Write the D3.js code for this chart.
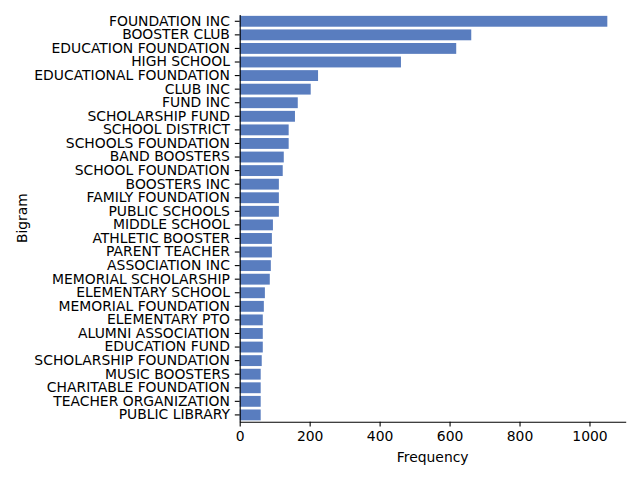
<!DOCTYPE html>
<html>
<head>
<meta charset="utf-8">
<script src="https://cdn.jsdelivr.net/npm/d3@7"></script>
<style>
  body { margin: 0; background: #fff; }
  svg { font-family: "DejaVu Sans", sans-serif; }
</style>
</head>
<body>
<svg id="chart" width="640" height="480"></svg>
<script>
// Bigram counts
const bigrams = [
    'FOUNDATION INC', 'BOOSTER CLUB', 'EDUCATION FOUNDATION', 'HIGH SCHOOL',
    'EDUCATIONAL FOUNDATION', 'CLUB INC', 'FUND INC', 'SCHOLARSHIP FUND',
    'SCHOOL DISTRICT', 'SCHOOLS FOUNDATION', 'BAND BOOSTERS', 'SCHOOL FOUNDATION',
    'BOOSTERS INC', 'FAMILY FOUNDATION', 'PUBLIC SCHOOLS', 'MIDDLE SCHOOL',
    'ATHLETIC BOOSTER', 'PARENT TEACHER', 'ASSOCIATION INC', 'MEMORIAL SCHOLARSHIP',
    'ELEMENTARY SCHOOL', 'MEMORIAL FOUNDATION', 'ELEMENTARY PTO', 'ALUMNI ASSOCIATION',
    'EDUCATION FUND', 'SCHOLARSHIP FOUNDATION', 'MUSIC BOOSTERS', 'CHARITABLE FOUNDATION',
    'TEACHER ORGANIZATION', 'PUBLIC LIBRARY'
];
const frequency = [
    1051, 662, 619, 461,
    224, 203, 166, 158,
    140, 140, 126, 123,
    112, 112, 112, 95,
    92, 92, 89, 86,
    72, 69, 66, 66,
    66, 63, 60, 60,
    60, 60
];
const xTicks = [0, 200, 400, 600, 800, 1000];

const svg = d3.select('#chart');
const margin = { top: 14.5, right: 14.3, bottom: 58.3, left: 239.7 };
const width = 640 - margin.left - margin.right;
const height = 480 - margin.top - margin.bottom;

const g = svg.append('g')
    .attr('transform', `translate(${margin.left},${margin.top})`);

// matplotlib-style 5% headroom on the value axis
const x = d3.scaleLinear()
    .domain([0, d3.max(frequency) * 1.05])
    .range([0, width]);

const y = d3.scaleBand()
    .domain(bigrams)
    .range([0, height])
    .paddingInner(0.2)
    .paddingOuter(0.1);

// Bars
g.append('g')
    .selectAll('rect')
    .data(bigrams)
    .enter().append('rect')
    .attr('x', x(0))
    .attr('y', d => y(d))
    .attr('width', (d, i) => x(frequency[i]) - x(0))
    .attr('height', y.bandwidth())
    .attr('fill', '#597dbf');

// Axes
const xAxis = g.append('g')
    .attr('transform', `translate(0,${height})`)
    .call(d3.axisBottom(x).tickValues(xTicks).tickFormat(d3.format('d'))
        .tickSize(4.9).tickPadding(4.9).tickSizeOuter(0));

const yAxis = g.append('g')
    .call(d3.axisLeft(y).tickSize(4.9).tickPadding(4.9).tickSizeOuter(0));

[xAxis, yAxis].forEach(a => {
    a.selectAll('text')
        .attr('font-family', '"DejaVu Sans", sans-serif')
        .attr('font-size', '13.9px')
        .attr('fill', '#000');
    a.selectAll('line').attr('stroke', '#000').attr('stroke-width', 1.1);
    a.select('.domain').attr('stroke', '#000').attr('stroke-width', 1.1);
});

// Axis titles
svg.append('text')
    .attr('x', margin.left + width / 2)
    .attr('y', 462)
    .attr('text-anchor', 'middle')
    .attr('font-size', '13.9px')
    .attr('fill', '#000')
    .text('Frequency');

svg.append('text')
    .attr('transform', `translate(27,${margin.top + height / 2}) rotate(-90)`)
    .attr('text-anchor', 'middle')
    .attr('font-size', '13.9px')
    .attr('fill', '#000')
    .text('Bigram');
</script>
</body>
</html>
